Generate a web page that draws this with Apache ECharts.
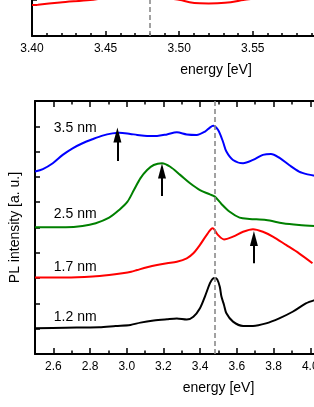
<!DOCTYPE html>
<html>
<head>
<meta charset="utf-8">
<script src="https://cdn.jsdelivr.net/npm/echarts@6/dist/echarts.min.js"></script>
<style>
html,body{margin:0;padding:0;overflow:hidden;background:#fff;}
#c{width:420px;height:407px;}
</style>
</head>
<body>
<div id="c"></div>
<script>
// ---- data ----
// upper panel (only its bottom strip is visible)
var topEnergy    = [3.400, 3.404, 3.419, 3.4395, 3.446, 3.470, 3.495, 3.5007, 3.507, 3.514, 3.520, 3.526, 3.535, 3.5435, 3.550];
var topIntensity = [1.00, 1.01, 1.08, 1.16, 1.20, null, 1.20, 1.16, 1.09, 1.055, 1.05, 1.055, 1.09, 1.16, 1.20];
var exciton = 3.477;

// lower panel
var e12 = [2.50, 2.668, 2.85, 2.94, 3.02, 3.075, 3.147, 3.219, 3.273, 3.327, 3.363, 3.399, 3.426, 3.453, 3.468, 3.481, 3.493, 3.507, 3.516, 3.53, 3.543, 3.579, 3.634, 3.688, 3.759, 3.831, 3.904, 3.976, 4.024];
var i12 = [1.02, 1.04, 1.06, 1.11, 1.15, 1.24, 1.32, 1.37, 1.40, 1.36, 1.47, 1.81, 2.27, 2.79, 2.97, 3.00, 2.95, 2.66, 2.27, 1.94, 1.61, 1.28, 1.11, 1.11, 1.21, 1.41, 1.67, 2.00, 2.13];

var e17 = [2.50, 2.668, 2.814, 2.904, 2.976, 3.024, 3.057, 3.111, 3.165, 3.219, 3.273, 3.327, 3.363, 3.399, 3.435, 3.468, 3.498, 3.53, 3.579, 3.634, 3.688, 3.742, 3.796, 3.868, 3.939, 4.012];
var i17 = [3.02, 3.02, 3.06, 3.12, 3.19, 3.25, 3.32, 3.43, 3.52, 3.59, 3.65, 3.78, 3.98, 4.31, 4.70, 4.97, 4.70, 4.53, 4.64, 4.83, 4.93, 4.83, 4.64, 4.31, 3.98, 3.59];

var e25 = [2.50, 2.668, 2.759, 2.831, 2.904, 2.958, 3.003, 3.039, 3.075, 3.111, 3.147, 3.192, 3.237, 3.291, 3.345, 3.399, 3.453, 3.48, 3.516, 3.561, 3.615, 3.669, 3.759, 3.85, 3.939, 4.024];
var i25 = [5.01, 5.01, 5.06, 5.17, 5.39, 5.69, 6.01, 6.48, 6.95, 7.27, 7.47, 7.54, 7.40, 7.08, 6.75, 6.48, 6.31, 6.22, 5.93, 5.62, 5.39, 5.34, 5.30, 5.17, 5.10, 5.06];

var e35 = [2.50, 2.543, 2.597, 2.651, 2.705, 2.759, 2.814, 2.868, 2.922, 2.959, 3.019, 3.057, 3.111, 3.165, 3.219, 3.273, 3.327, 3.381, 3.426, 3.453, 3.471, 3.498, 3.525, 3.543, 3.579, 3.634, 3.688, 3.742, 3.786, 3.831, 3.885, 3.939, 3.985, 4.024];
var i35 = [7.21, 7.31, 7.54, 7.87, 8.13, 8.33, 8.49, 8.63, 8.72, 8.75, 8.70, 8.66, 8.62, 8.62, 8.68, 8.76, 8.68, 8.66, 8.79, 8.95, 9.02, 8.85, 8.38, 8.00, 7.67, 7.54, 7.67, 7.87, 7.91, 7.76, 7.47, 7.21, 7.10, 7.05];

var curveNames  = ['1.2 nm', '1.7 nm', '2.5 nm', '3.5 nm'];
var labelEnergy = [2.719, 2.719, 2.719, 2.719];
var labelLevel  = [1.47, 3.45, 5.51, 8.94];

// arrows: energy, start level, tip level
var arrowEnergy = [2.949, 3.192, 3.693];
var arrowFrom   = [7.63, 6.25, 3.59];
var arrowTo     = [8.66, 7.23, 4.57];

// ---- build ----
function pairs(e, v) { return e.map(function (x, k) { return [x, v[k] === null ? '-' : v[k]]; }); }

var FONT = 'Liberation Sans, Arial, Helvetica, sans-serif';
var axLine = { show: true, lineStyle: { color: '#000', width: 2 } };

function labelPoint(k) {
  return {
    symbol: 'circle', symbolSize: 0, silent: true, animation: false,
    label: { show: true, position: 'inside', formatter: curveNames[k], color: '#000', fontSize: 14, fontFamily: FONT },
    data: [{ coord: [labelEnergy[k], labelLevel[k]] }]
  };
}
function arrowLine(list) {
  return {
    silent: true, animation: false, symbol: ['none', 'triangle'], symbolSize: [8, 15],
    label: { show: false },
    lineStyle: { color: '#000', width: 2, type: 'solid' },
    data: list.map(function (k) { return [{ coord: [arrowEnergy[k], arrowFrom[k]] }, { coord: [arrowEnergy[k], arrowTo[k]] }]; })
  };
}
var dashStyle = { color: '#8a8a8a', width: 1.6, type: [5, 3] };

var option = {
  animation: false,
  backgroundColor: '#fff',
  textStyle: { fontFamily: FONT },
  grid: [
    { left: 32, top: 0, width: 368, height: 36 },
    { left: 32, top: 101, width: 370, height: 253 }
  ],
  xAxis: [
    { // 0: upper panel
      type: 'value', gridIndex: 0, min: 3.40, max: 3.65, interval: 0.05,
      name: 'energy [eV]', nameLocation: 'middle', nameGap: 27,
      nameTextStyle: { fontSize: 14, color: '#000', fontFamily: FONT },
      axisLine: axLine,
      axisTick: { inside: true, length: 5, lineStyle: { color: '#000', width: 1.5 } },
      minorTick: { show: true, splitNumber: 5, length: 3, lineStyle: { color: '#000', width: 1.5 } },
      axisLabel: { margin: 7, fontSize: 12, color: '#000', fontFamily: FONT, formatter: function (v) { return v.toFixed(2); } },
      splitLine: { show: false }
    },
    { // 1: lower panel bottom, major ticks + labels
      type: 'value', gridIndex: 1, position: 'bottom', min: 2.5, max: 4.5, splitNumber: 10,
      name: 'energy [eV]', nameLocation: 'middle', nameGap: 27,
      nameTextStyle: { fontSize: 14, color: '#000', fontFamily: FONT },
      axisLine: axLine,
      axisTick: { inside: true, length: 6, lineStyle: { color: '#000', width: 1.5 } },
      axisLabel: { margin: 7, fontSize: 12, color: '#000', fontFamily: FONT, showMinLabel: false, showMaxLabel: false,
        formatter: function (v) { return v.toFixed(1); } },
      splitLine: { show: false }
    },
    { // 2: lower panel bottom, minor ticks
      type: 'value', gridIndex: 1, position: 'bottom', min: 2.5, max: 4.5, interval: 0.1,
      axisLine: { show: false },
      axisTick: { inside: true, length: 3.5, lineStyle: { color: '#000', width: 1.5 } },
      axisLabel: { show: false }, splitLine: { show: false }
    },
    { // 3: lower panel top, major ticks
      type: 'value', gridIndex: 1, position: 'top', min: 2.5, max: 4.5, splitNumber: 10,
      axisLine: axLine,
      axisTick: { inside: true, length: 6, lineStyle: { color: '#000', width: 1.5 } },
      axisLabel: { show: false }, splitLine: { show: false }
    },
    { // 4: lower panel top, minor ticks
      type: 'value', gridIndex: 1, position: 'top', min: 2.5, max: 4.5, interval: 0.1,
      axisLine: { show: false },
      axisTick: { inside: true, length: 3.5, lineStyle: { color: '#000', width: 1.5 } },
      axisLabel: { show: false }, splitLine: { show: false }
    }
  ],
  yAxis: [
    {
      type: 'value', gridIndex: 0, min: 0, max: 1.16, interval: 1,
      axisLine: axLine,
      axisTick: { inside: true, length: 5, lineStyle: { color: '#000', width: 1.5 } },
      axisLabel: { show: false }, splitLine: { show: false }
    },
    {
      type: 'value', gridIndex: 1, min: 0, max: 10, interval: 1,
      name: 'PL intensity [a. u.]', nameLocation: 'middle', nameGap: 13,
      nameTextStyle: { fontSize: 14, color: '#000', fontFamily: FONT },
      axisLine: axLine,
      axisTick: { inside: true, length: 5, lineStyle: { color: '#000', width: 1.5 } },
      axisLabel: { show: false }, splitLine: { show: false }
    }
  ],
  series: [
    {
      type: 'line', xAxisIndex: 0, yAxisIndex: 0, data: pairs(topEnergy, topIntensity),
      showSymbol: false, smooth: 0.3, connectNulls: false, clip: true,
      lineStyle: { color: '#ff0000', width: 2 },
      markLine: { silent: true, symbol: 'none', label: { show: false }, lineStyle: dashStyle, data: [{ xAxis: exciton }] }
    },
    {
      name: curveNames[0], type: 'line', xAxisIndex: 1, yAxisIndex: 1, data: pairs(e12, i12),
      showSymbol: false, smooth: 0.3, clip: true, lineStyle: { color: '#000000', width: 2 },
      markPoint: labelPoint(0),
      markLine: { silent: true, symbol: 'none', label: { show: false }, lineStyle: dashStyle, data: [{ xAxis: exciton }] }
    },
    {
      name: curveNames[1], type: 'line', xAxisIndex: 1, yAxisIndex: 1, data: pairs(e17, i17),
      showSymbol: false, smooth: 0.3, clip: true, lineStyle: { color: '#ff0000', width: 2 },
      markPoint: labelPoint(1), markLine: arrowLine([2])
    },
    {
      name: curveNames[2], type: 'line', xAxisIndex: 1, yAxisIndex: 1, data: pairs(e25, i25),
      showSymbol: false, smooth: 0.3, clip: true, lineStyle: { color: '#008000', width: 2 },
      markPoint: labelPoint(2), markLine: arrowLine([1])
    },
    {
      name: curveNames[3], type: 'line', xAxisIndex: 1, yAxisIndex: 1, data: pairs(e35, i35),
      showSymbol: false, smooth: 0.3, clip: true, lineStyle: { color: '#0000ff', width: 2 },
      markPoint: labelPoint(3), markLine: arrowLine([0])
    }
  ]
};
var chart = echarts.init(document.getElementById('c'), null, { renderer: 'canvas' });
chart.setOption(option);
</script>
</body>
</html>
